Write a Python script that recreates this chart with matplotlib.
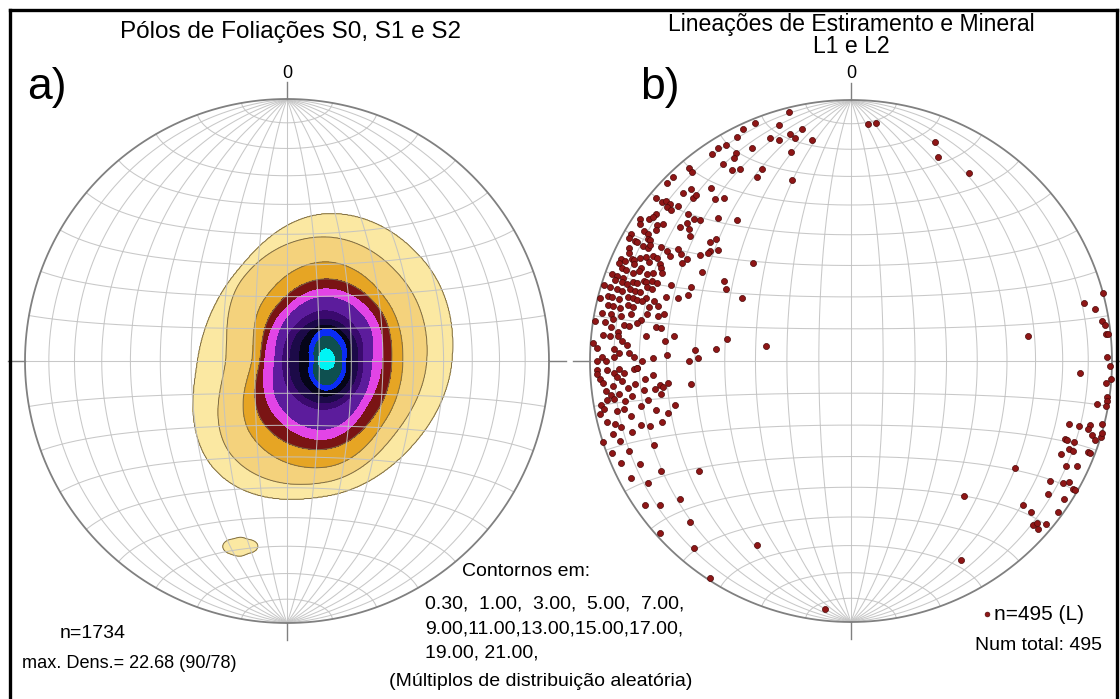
import numpy as np
import matplotlib
matplotlib.use("Agg")
import matplotlib.pyplot as plt
from matplotlib.lines import Line2D

# ---------------- data ----------------
contour_levels = [0.30, 1.00, 3.00, 5.00, 7.00, 9.00, 11.00, 13.00, 15.00, 17.00, 19.00, 21.00]
contour_colors = ["#FBE8A2", "#F4D27C", "#E6A524", "#7A1414", "#E244E6", "#5C1C9C",
                  "#3A0A6E", "#1C0A48", "#050518", "#0A2CF4", "#0E5050", "#00F4F4"]
max_density = 22.68
max_trend, max_plunge = 90, 78
n_poles = 1734

# contour boundary distance from the maximum (fraction of net radius), at azimuths N, NE, E, SE, S, SW, W, NW
boundary_azimuth = [0, 45, 90, 135, 180, 225, 270, 315]
boundary_radius = [
    [.561, .534, .481, .462, .515, .592, .489, .481],   # 0.30
    [.473, .427, .385, .382, .462, .508, .382, .447],   # 1.00
    [.378, .328, .294, .321, .405, .401, .282, .332],   # 3.00
    [.313, .286, .252, .275, .336, .336, .252, .279],   # 5.00
    [.275, .252, .214, .229, .298, .282, .233, .248],   # 7.00
    [.244, .218, .176, .198, .260, .244, .195, .218],   # 9.00
    [.191, .168, .141, .160, .183, .179, .164, .176],   # 11.00
    [.160, .141, .122, .137, .160, .153, .137, .149],   # 13.00
    [.137, .118, .099, .115, .134, .118, .099, .118],   # 15.00
    [.122, .099, .076, .092, .111, .084, .061, .084],   # 17.00
    [.095, .076, .061, .073, .092, .065, .042, .061],   # 19.00
    [.046, .038, .034, .034, .031, .031, .027, .034],   # 21.00
]
# small isolated 0.30 patch
patch_trend, patch_plunge = 194, 28
patch_value = 0.6
patch_radius = [.034, .038, .065, .040, .038, .046, .069, .040]

# lineations (trend, plunge)
lin_trend = [
    346, 343, 338, 335, 348, 345, 346, 340, 342, 350, 333, 330, 328, 335, 326, 344, 331, 330, 335, 327,
    328, 330, 320, 320, 316, 314, 333, 342, 321, 315, 317, 316, 317, 310, 310, 320, 311, 311, 310, 322,
    312, 310, 307, 312, 304, 305, 306, 317, 312, 313, 310, 309, 321, 303, 305, 306, 308, 302, 302, 304,
    300, 299, 299, 308, 301, 301, 310, 312, 310, 299, 299, 299, 300, 297, 296, 301, 301, 300, 302, 303,
    308, 294, 294, 295, 295, 296, 297, 298, 298, 305, 307, 302, 293, 292, 292, 294, 294, 296, 297, 300,
    301, 315, 290, 290, 290, 292, 293, 293, 294, 296, 295, 289, 289, 289, 290, 290, 291, 291, 292, 292,
    293, 295, 302, 300, 287, 287, 287, 288, 288, 288, 290, 290, 289, 290, 287, 284, 285, 285, 285, 286,
    286, 286, 287, 287, 300, 292, 283, 283, 283, 284, 284, 286, 285, 286, 284, 283, 283, 281, 281, 280,
    281, 282, 281, 280, 279, 279, 278, 279, 279, 277, 280, 280, 276, 276, 278, 277, 276, 280, 280, 274,
    273, 271, 276, 275, 274, 273, 272, 271, 272, 271, 270, 268, 271, 274, 271, 275, 270, 272, 270, 270,
    268, 266, 268, 267, 268, 267, 268, 268, 266, 265, 266, 267, 265, 264, 263, 263, 262, 262, 263, 262,
    262, 262, 262, 261, 261, 260,
    260, 256, 255, 252, 251, 249, 248, 246, 244, 242, 239, 240, 258, 253, 247, 254, 235, 233, 231, 234,
    259, 253, 228, 225, 220, 213, 207, 186, 151,
    260, 261, 258, 259, 256, 256, 258, 264, 265, 263, 258, 254, 252, 252, 252, 256,
    4, 6, 21, 23, 32,
    75, 76, 78, 81, 82, 84, 84, 82, 89, 91, 93, 94, 95, 98, 99, 100, 100, 104, 106, 106,
    105, 106, 107, 108, 107, 106, 110, 110, 110, 114, 112, 112, 111, 111, 116, 115, 123, 121, 120, 119,
    120, 120, 124, 140, 123, 130, 130, 126, 132, 131, 130, 132,
]
lin_plunge = [
    2, 6, 2, 2, 10, 11, 13, 10, 12, 15, 4, 5, 4, 11, 5, 18, 10, 11, 20, 11,
    15, 16, 4, 6, 2, 2, 22, 28, 16, 10, 11, 14, 14, 3, 6, 20, 7, 9, 9, 22,
    12, 11, 7, 17, 3, 6, 7, 26, 20, 22, 19, 21, 31, 4, 10, 12, 18, 7, 9, 11,
    3, 3, 6, 23, 10, 11, 30, 31, 34, 7, 10, 12, 12, 5, 6, 16, 19, 21, 24, 22,
    32, 4, 6, 8, 9, 11, 13, 15, 17, 30, 32, 27, 4, 6, 8, 10, 13, 15, 19, 26,
    34, 46, 3, 5, 8, 11, 13, 16, 18, 20, 21, 5, 8, 10, 12, 14, 16, 17, 19, 21,
    26, 33, 42, 44, 4, 7, 9, 12, 14, 16, 18, 20, 26, 30, 1, 1, 4, 6, 9, 12,
    14, 16, 19, 22, 50, 33, 5, 7, 10, 13, 15, 18, 21, 24, 27, 25, 21, 3, 7, 8,
    11, 15, 19, 18, 1, 5, 8, 13, 15, 11, 25, 27, 5, 8, 32, 22, 29, 50, 63, 1,
    3, 5, 11, 13, 15, 10, 12, 10, 16, 18, 21, 19, 25, 40, 41, 47, 38, 30, 3, 7,
    3, 4, 7, 10, 12, 14, 18, 19, 11, 13, 25, 3, 5, 9, 27, 30, 28, 38, 6, 8,
    11, 21, 25, 6, 9, 27,
    3, 4, 7, 0, 7, 2, 9, 4, 11, 5, 10, 17, 12, 17, 19, 28, 4, 9, 17, 29,
    4, 5, 2, 14, 7, 1, 22, 5, 14,
    13, 16, 19, 22, 24, 14, 9, 18, 22, 15, 2, 9, 13, 20, 25, 31,
    10, 9, 11, 16, 16,
    0, 9, 5, 3, 2, 2, 1, 32, 2, 1, 13, 0, 2, 1, 1, 1, 5, 1, 14, 10,
    6, 6, 4, 2, 0, 0, 14, 13, 10, 13, 11, 9, 3, 2, 9, 5, 26, 12, 7, 5,
    2, 1, 10, 33, 3, 15, 11, 2, 7, 6, 3, 4,
]
n_lin = 495

# ---------------- helpers ----------------
def project(trend, plunge):
    t = np.radians(np.asarray(trend, float))
    p = np.radians(np.asarray(plunge, float))
    r = np.sqrt(2.0) * np.sin((np.pi / 2 - p) / 2)
    return r * np.sin(t), r * np.cos(t)


def vec_to_xy(e, n, d):
    s = np.sqrt(1 + d)
    return e / s, n / s


GRID_C = "#c2c2c2"
GRID_KW = dict(color=GRID_C, lw=0.75, alpha=0.9, zorder=3)


def draw_net(ax):
    phi = np.linspace(0, np.pi, 361)
    for dip in range(10, 90, 10):
        dr = np.radians(dip)
        for sgn in (1, -1):
            x, y = vec_to_xy(sgn * np.sin(phi) * np.cos(dr), np.cos(phi), np.sin(phi) * np.sin(dr))
            ax.plot(x, y, **GRID_KW)
    ax.plot([0, 0], [-1, 1], **GRID_KW)
    for a in range(10, 90, 10):
        ar = np.radians(a)
        for sgn in (1, -1):
            x, y = vec_to_xy(np.sin(ar) * np.cos(phi), sgn * np.cos(ar) * np.ones_like(phi),
                             np.sin(ar) * np.sin(phi))
            ax.plot(x, y, **GRID_KW)
    ax.plot([-1, 1], [0, 0], **GRID_KW)
    th = np.linspace(0, 2 * np.pi, 721)
    ax.plot(np.cos(th), np.sin(th), color="#808080", lw=1.3, zorder=4)
    tl = 0.065
    for (x0, y0, x1, y1) in [(0, 1, 0, 1 + tl), (0, -1, 0, -1 - tl), (1, 0, 1 + tl, 0), (-1, 0, -1 - tl, 0)]:
        ax.plot([x0, x1], [y0, y1], color="#808080", lw=1.0, zorder=4, clip_on=False)


def periodic_interp(vals, az):
    """Catmull-Rom interpolation of evenly spaced periodic samples."""
    vals = np.asarray(vals, float)
    n = len(vals)
    step = 360.0 / n
    u = (az % 360.0) / step
    i = np.floor(u).astype(int)
    t = u - i
    p0 = vals[(i - 1) % n]
    p1 = vals[i % n]
    p2 = vals[(i + 1) % n]
    p3 = vals[(i + 2) % n]
    return 0.5 * ((2 * p1) + (-p0 + p2) * t + (2 * p0 - 5 * p1 + 4 * p2 - p3) * t ** 2
                  + (-p0 + 3 * p1 - 3 * p2 + p3) * t ** 3)


def radial_field(X, Y, cx, cy, radii_table, values, peak):
    dx, dy = X - cx, Y - cy
    d = np.hypot(dx, dy)
    az = np.degrees(np.arctan2(dx, dy)) % 360
    R = np.array([periodic_interp(r, az) for r in radii_table])
    K = len(values)
    out = np.zeros_like(X)
    r0 = R[0]
    outside = d >= r0
    out[outside] = np.clip(values[0] * (1 - (d[outside] - r0[outside]) / r0[outside]), 0, None)
    for k in range(K - 1):
        m = (d < R[k]) & (d >= R[k + 1])
        frac = (R[k][m] - d[m]) / (R[k][m] - R[k + 1][m])
        out[m] = values[k] + (values[k + 1] - values[k]) * frac
    m = d < R[K - 1]
    out[m] = values[K - 1] + (peak - values[K - 1]) * (1 - d[m] / R[K - 1][m])
    return out


# ---------------- figure ----------------
W, H = 1120, 699
fig = plt.figure(figsize=(W / 100, H / 100), dpi=100)
fig.patch.set_facecolor("white")

LIM = 1.12


def net_axes(cx_px, cy_px, R_px):
    half = LIM * R_px
    ax = fig.add_axes([(cx_px - half) / W, (H - cy_px - half) / H, 2 * half / W, 2 * half / H])
    ax.set_xlim(-LIM, LIM)
    ax.set_ylim(-LIM, LIM)
    ax.set_aspect("equal")
    ax.axis("off")
    return ax


FONT = ["Liberation Sans", "DejaVu Sans"]

# ---- (a) pole density ----
axa = net_axes(287, 361, 262)
g = np.linspace(-1.0, 1.0, 700)
X, Y = np.meshgrid(g, g)
mx, my = project(max_trend, max_plunge)
field = radial_field(X, Y, mx, my, boundary_radius, contour_levels, max_density)
px, py = project(patch_trend, patch_plunge)
field2 = radial_field(X, Y, px, py, [patch_radius], [contour_levels[0]], patch_value)
field = np.maximum(field, field2)
field[np.hypot(X, Y) > 1.0] = np.nan
axa.contourf(X, Y, field, levels=contour_levels + [max_density + 1], colors=contour_colors, zorder=1)
axa.contour(X, Y, field, levels=contour_levels[:4], colors="#7d6c45", linewidths=0.7, zorder=2)
draw_net(axa)

# ---- (b) lineations ----
axb = net_axes(851, 361, 261)
draw_net(axb)
lx, ly = project(lin_trend, lin_plunge)
axb.scatter(lx, ly, s=19, color="#8E1616", edgecolor="#4a0808", linewidths=0.5, zorder=6)

# ---------------- texts ----------------
def ftext(x, y, s, size, ha="center", va="center", **kw):
    fig.text(x / W, 1 - y / H, s, fontsize=size, ha=ha, va=va, family=FONT, **kw)

ftext(291, 38, "Pólos de Foliações S0, S1 e S2", 17.5, va="baseline")
ftext(851, 31, "Lineações de Estiramento e Mineral", 16.6, va="baseline")
ftext(851, 53, "L1 e L2", 16.6, va="baseline")
ftext(47, 88, "a)", 32)
ftext(660, 88, "b)", 32)
ftext(287, 73, "0", 13)
ftext(851, 73, "0", 13)
ftext(60, 633, "n=%d" % n_poles, 14, ha="left")
ftext(22, 663, "max. Dens.= %.2f (%d/%d)" % (max_density, max_trend, max_plunge), 13.1, ha="left")
ftext(462, 571, "Contornos em:", 14, ha="left")
ftext(425, 604, "0.30,  1.00,  3.00,  5.00,  7.00,", 14, ha="left")
ftext(425, 629, "9.00,11.00,13.00,15.00,17.00,", 14, ha="left")
ftext(425, 653, "19.00, 21.00,", 14, ha="left")
ftext(541, 682, "(Múltiplos de distribuição aleatória)", 14)
fig.add_artist(Line2D([987 / W], [1 - 614 / H], marker="o", markersize=3.5, color="#8E1616",
                      markeredgecolor="#4a0808", markeredgewidth=0.4, linestyle="none"))
ftext(994, 614, "n=%d (L)" % n_lin, 15, ha="left")
ftext(975, 645, "Num total: %d" % n_lin, 14, ha="left")

# frame (left, top, right)
for xs, ys in [([9.5, 9.5], [699, 9.5]), ([9.5, 1117], [9.5, 9.5]), ([1117, 1117], [9.5, 699])]:
    fig.add_artist(Line2D([v / W for v in xs], [1 - v / H for v in ys], color="black", lw=2.4))

fig.savefig("out.png", dpi=100, facecolor="white")
